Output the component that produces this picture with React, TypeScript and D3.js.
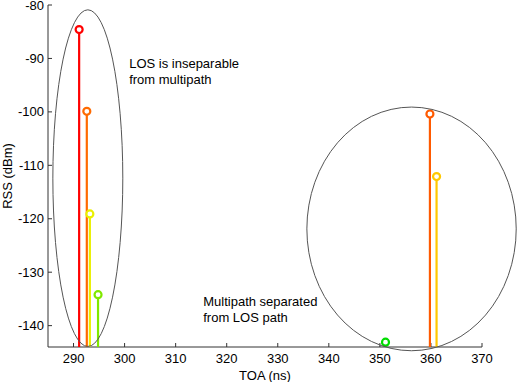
import * as d3 from "d3";
import React from "react";

// stem data: TOA (ns) vs RSS (dBm)
const toa = [291.1, 292.6, 293.2, 294.8, 351.1, 359.8, 361.1];
const rss = [-84.6, -99.9, -119.1, -134.2, -143.1, -100.4, -112.1];
const colors = ["#ff0000", "#ff6a00", "#eaf000", "#80e800", "#00dd00", "#ff5a00", "#ffc800"];

const xTicks = [290, 300, 310, 320, 330, 340, 350, 360, 370];
const yTicks = [-80, -90, -100, -110, -120, -130, -140];

// ellipses in data units: [cx, cy, rx, ry]
const ellipses = [
  [292.8, -112.4, 6.85, 31.5],
  [356.2, -121.9, 20.5, 22.8],
];

const notes = [
  { x: 300.9, y: -91.7, lines: ["LOS is inseparable", "from multipath"] },
  { x: 315.4, y: -136.4, lines: ["Multipath separated", "from LOS path"] },
];

export default function App() {
  const width = 519, height = 382;
  const marginLeft = 48, marginRight = 37, marginTop = 5, marginBottom = 35;
  const x = d3.scaleLinear([285, 370], [marginLeft, width - marginRight]);
  const y = d3.scaleLinear([-144, -80], [height - marginBottom, marginTop]);
  const font = "'Liberation Sans', Arial, sans-serif";
  const base = y(-144);

  return (
    <svg width={width} height={height} style={{position: "absolute", left: 0, top: 0, background: "#fff"}} fontFamily={font}>
      {/* axes */}
      <g stroke="#333" strokeWidth="1">
        <line x1={x(285)} x2={x(370)} y1={base} y2={base} />
        <line x1={x(285)} x2={x(285)} y1={y(-80)} y2={base} />
        {xTicks.map(t => <line key={t} x1={x(t)} x2={x(t)} y1={base} y2={base - 4} />)}
        {yTicks.map(t => <line key={t} x1={x(285)} x2={x(285) + 4} y1={y(t)} y2={y(t)} />)}
      </g>
      <g fontSize="13" fill="#000">
        {xTicks.map(t => <text key={t} x={x(t)} y={base + 16} textAnchor="middle">{t}</text>)}
        {yTicks.map(t => <text key={t} x={x(285) - 4} y={y(t) + 4.5} textAnchor="end">{t}</text>)}
        <text x={(x(285) + x(370)) / 2} y={base + 33} textAnchor="middle">TOA (ns)</text>
        <text transform={`translate(12,${(y(-80) + base) / 2}) rotate(-90)`} textAnchor="middle">RSS (dBm)</text>
      </g>
      {/* stems */}
      {toa.map((t, i) => (
        <g key={i} stroke={colors[i]} strokeWidth="2.2">
          <line x1={x(t)} x2={x(t)} y1={base} y2={y(rss[i])} />
          <circle cx={x(t)} cy={y(rss[i])} r="3.5" fill="#fff" />
        </g>
      ))}
      {/* ellipses */}
      {ellipses.map(([cx, cy, rx, ry], i) => (
        <ellipse key={i} cx={x(cx)} cy={y(cy)} rx={x(cx + rx) - x(cx)} ry={y(cy) - y(cy + ry)}
          fill="none" stroke="#555" strokeWidth="1" />
      ))}
      {/* annotations */}
      <g fontSize="13" fill="#000">
        {notes.map((n, i) => (
          <text key={i} x={x(n.x)} y={y(n.y)}>
            {n.lines.map((l, j) => <tspan key={j} x={x(n.x)} dy={j === 0 ? 0 : 16}>{l}</tspan>)}
          </text>
        ))}
      </g>
    </svg>
  );
}
